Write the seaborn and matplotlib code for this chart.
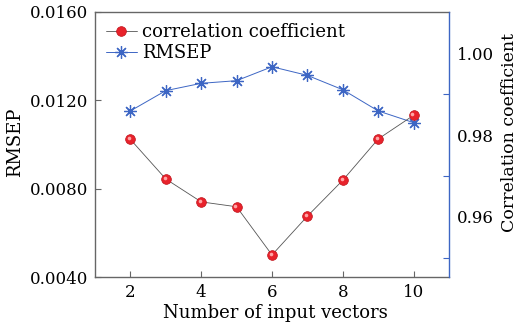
import matplotlib
matplotlib.use("Agg")
import matplotlib.pyplot as plt
import numpy as np
import pandas as pd
import seaborn as sns
from matplotlib import transforms
from matplotlib.lines import Line2D

# ---- data ----
n_vectors = [2, 3, 4, 5, 6, 7, 8, 9, 10]
rmsep = [0.01152, 0.01244, 0.01277, 0.01289, 0.01352, 0.01313, 0.01248, 0.01152, 0.01099]
corr = [0.9790, 0.9693, 0.9637, 0.9625, 0.9507, 0.9602, 0.9690, 0.9791, 0.9849]
left_ticks = [0.0040, 0.0080, 0.0120, 0.0160]
left_labels = ["0.0040", "0.0080", "0.0120", "0.0160"]
right_tick_marks = [0.95, 0.97, 0.99]
right_label_pos = [0.96, 0.98, 1.00]
right_labels = ["0.96", "0.98", "1.00"]
x_ticks = [2, 4, 6, 8, 10]

df = pd.DataFrame({"n": n_vectors, "rmsep": rmsep, "corr": corr})

sns.set_style("ticks")
plt.rcParams["font.family"] = ["DejaVu Serif"]
plt.rcParams["font.size"] = 12
plt.rcParams["text.color"] = "black"
plt.rcParams["axes.labelcolor"] = "black"
plt.rcParams["xtick.labelcolor"] = "black"
plt.rcParams["ytick.labelcolor"] = "black"

RED = "#e8222b"
BLUE = "#3d66c4"
GREY = "#666666"
TICK_FS = 12
LAB_FS = 13

fig = plt.figure(figsize=(5.19, 3.27), dpi=100)
ax = fig.add_axes([95 / 519, 1 - 277 / 327, (449 - 95) / 519, (277 - 12) / 327])
ax2 = ax.twinx()

star = (8, 2, 0)
sns.lineplot(data=df, x="n", y="rmsep", ax=ax, color=BLUE, lw=0.7,
             marker=star, markersize=9, markeredgewidth=0.9,
             markeredgecolor=BLUE, legend=False)
sns.lineplot(data=df, x="n", y="rmsep", ax=ax, color=BLUE, lw=0,
             marker="o", markersize=2.0, markeredgewidth=0, legend=False)

sns.lineplot(data=df, x="n", y="corr", ax=ax2, color="#555555", lw=0.6,
             marker="o", markersize=7, markerfacecolor=RED,
             markeredgecolor="#c0141c", markeredgewidth=0.5, legend=False)
# highlight on spheres
hl = transforms.offset_copy(ax2.transData, fig=fig, x=-1.2, y=1.2, units="dots")
ax2.plot(df["n"], df["corr"], lw=0, marker="o", markersize=2.6,
         markerfacecolor="#ffa5a5", markeredgewidth=0, transform=hl)

ax.set_xlim(1, 11)
ax.set_ylim(0.004, 0.016)
ax2.set_ylim(0.9453, 1.0102)

ax.set_xticks(x_ticks)
ax.set_yticks(left_ticks)
ax.set_yticklabels(left_labels)
ax.tick_params(axis="both", direction="in", length=4, width=0.8, color=GREY,
               labelsize=TICK_FS, pad=5, labelcolor="black")

ax2.set_yticks(right_tick_marks)
ax2.set_yticklabels([""] * len(right_tick_marks))
ax2.set_yticks(right_label_pos, minor=True)
ax2.set_yticklabels(right_labels, minor=True)
ax2.tick_params(axis="y", which="major", direction="in", length=4, width=0.8,
                color=BLUE)
ax2.tick_params(axis="y", which="minor", length=0, labelsize=TICK_FS, pad=6,
                labelcolor="black")

for s in ["left", "top", "bottom"]:
    ax.spines[s].set_color(GREY)
    ax.spines[s].set_linewidth(1.0)
    ax2.spines[s].set_visible(False)
ax.spines["right"].set_visible(False)
ax2.spines["right"].set_color(BLUE)
ax2.spines["right"].set_linewidth(1.0)

ax.set_xlabel("Number of input vectors", fontsize=LAB_FS)
ax.set_ylabel("RMSEP", fontsize=LAB_FS)
ax2.set_ylabel("Correlation coefficient", fontsize=12.5)
ax.xaxis.set_label_coords((275.5 - 95) / 354, -(313 - 277) / 265)
ax.yaxis.set_label_coords(-(95 - 15) / 354, (277 - 142.5) / 265)
ax2.yaxis.set_label_coords((509 - 95) / 354, (277 - 133) / 265)
ax.xaxis.label.set_va("center")
ax.yaxis.label.set_va("center")
ax2.yaxis.label.set_va("center")

handles = [
    Line2D([], [], color="#555555", lw=0.6, marker="o", markersize=7,
           markerfacecolor=RED, markeredgecolor="#c0141c", markeredgewidth=0.5),
    Line2D([], [], color=BLUE, lw=0.7, marker=star, markersize=9,
           markeredgewidth=0.9, markeredgecolor=BLUE),
]
ax2.legend(handles, ["correlation coefficient", "RMSEP"], loc="upper left",
           frameon=False, handlelength=1.7, handletextpad=0.3,
           borderaxespad=0.35, labelspacing=0.2, fontsize=LAB_FS,
           borderpad=0.25)

fig.savefig("out.png", dpi=100)
